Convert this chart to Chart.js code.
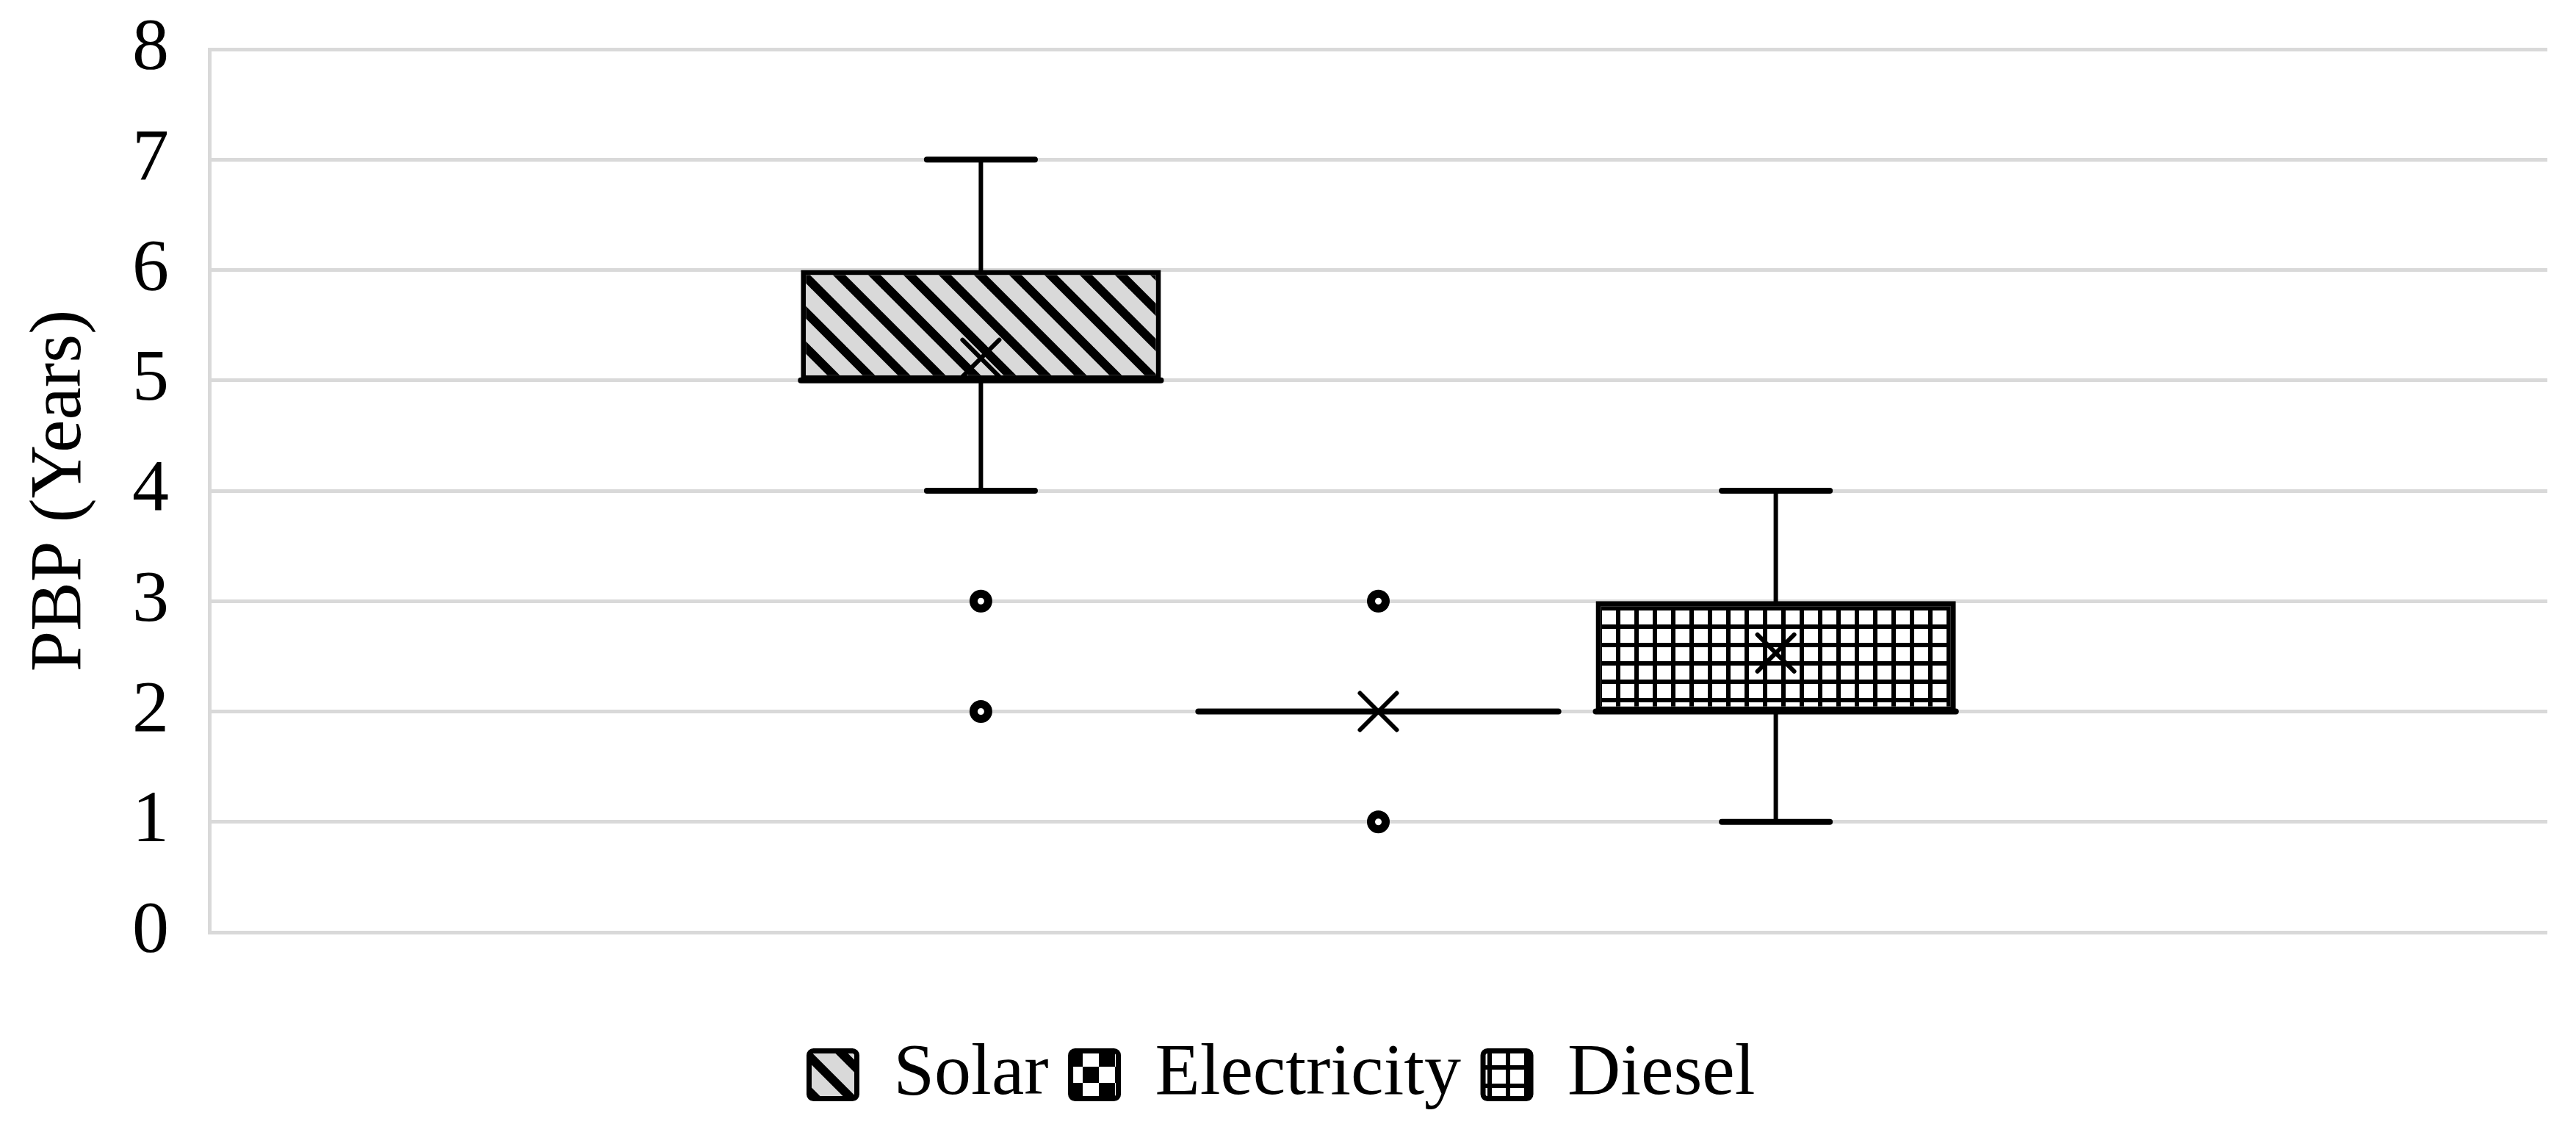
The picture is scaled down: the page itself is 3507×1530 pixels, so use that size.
<!DOCTYPE html>
<html>
<head>
<meta charset="utf-8">
<title>PBP box plot</title>
<script src="https://cdn.jsdelivr.net/npm/chart.js@4.4.0/dist/chart.umd.min.js"></script>
<style>
  html, body { margin: 0; padding: 0; background: #fff; }
  #wrap { width: 3507px; height: 1530px; }
</style>
</head>
<body>
<div id="wrap"><canvas id="pbpChart" width="3507" height="1530"></canvas></div>
<script>
// Values (years)
const categories = [''];
const seriesNames = ['Solar', 'Electricity', 'Diesel'];
const q1Values = [5, 2, 2];
const q3Values = [6, 2, 3];
const medianValues = [5, 2, 2];
const meanValues = [5.2, 2, 2.53];
const whiskerLow = [4, 2, 1];
const whiskerHigh = [7, 2, 4];
const outlierValues = [[3, 2], [3, 1], []];
const yTicks = [0, 1, 2, 3, 4, 5, 6, 7, 8];

const FONT = "'Liberation Serif', 'Times New Roman', serif";

// Fill patterns like the Excel ones
function makePattern(kind) {
  const c = document.createElement('canvas');
  const g = c.getContext('2d');
  if (kind === 'stripes') {
    const s = 48;
    c.width = s; c.height = s;
    g.fillStyle = '#d9d9d9';
    g.fillRect(0, 0, s, s);
    g.strokeStyle = '#000';
    g.lineWidth = 12;
    [-s, 0, s].forEach(off => {
      g.beginPath();
      g.moveTo(off - s, -s);
      g.lineTo(off + 2 * s, 2 * s);
      g.stroke();
    });
  } else if (kind === 'checker') {
    const s = 44;
    c.width = s; c.height = s;
    g.fillStyle = '#fff';
    g.fillRect(0, 0, s, s);
    g.fillStyle = '#000';
    g.fillRect(s / 2, 0, s / 2, s / 2);
    g.fillRect(0, s / 2, s / 2, s / 2);
  } else {
    const s = 25;
    c.width = s; c.height = s;
    g.fillStyle = '#fff';
    g.fillRect(0, 0, s, s);
    g.fillStyle = '#000';
    g.fillRect(0, 0, s, 6);
    g.fillRect(0, 0, 6, s);
  }
  return g.createPattern(c, 'repeat');
}

const fills = [makePattern('stripes'), makePattern('checker'), makePattern('grid')];

// whiskers, median, mean marker and outliers
const boxExtras = {
  id: 'boxExtras',
  afterDatasetsDraw(chart) {
    const ctx = chart.ctx;
    const y = chart.scales.y;
    ctx.save();
    ctx.strokeStyle = '#000';
    ctx.lineCap = 'round';
    seriesNames.forEach((name, i) => {
      const bar = chart.getDatasetMeta(i).data[0];
      const x = bar.x;
      const w = bar.width;
      const cap = w * 0.3;

      [[q3Values[i], whiskerHigh[i]], [q1Values[i], whiskerLow[i]]].forEach(([from, to]) => {
        if (from === to) return;
        const yTo = y.getPixelForValue(to);
        ctx.lineWidth = 6;
        ctx.beginPath();
        ctx.moveTo(x, y.getPixelForValue(from));
        ctx.lineTo(x, yTo);
        ctx.stroke();
        ctx.lineWidth = 8;
        ctx.beginPath();
        ctx.moveTo(x - cap / 2, yTo);
        ctx.lineTo(x + cap / 2, yTo);
        ctx.stroke();
      });

      // median line
      const ym = y.getPixelForValue(medianValues[i]);
      ctx.lineWidth = 8;
      ctx.beginPath();
      ctx.moveTo(x - w / 2, ym);
      ctx.lineTo(x + w / 2, ym);
      ctx.stroke();

      // mean marker (x)
      const yMean = y.getPixelForValue(meanValues[i]);
      const r = 25;
      ctx.lineWidth = 6;
      ctx.beginPath();
      ctx.moveTo(x - r, yMean - r);
      ctx.lineTo(x + r, yMean + r);
      ctx.moveTo(x + r, yMean - r);
      ctx.lineTo(x - r, yMean + r);
      ctx.stroke();

      // outliers
      outlierValues[i].forEach(v => {
        ctx.beginPath();
        ctx.arc(x, y.getPixelForValue(v), 10, 0, Math.PI * 2);
        ctx.fillStyle = '#fff';
        ctx.fill();
        ctx.lineWidth = 11;
        ctx.stroke();
      });
    });
    ctx.restore();
  }
};

window.addEventListener('DOMContentLoaded', () => {
  const ctx = document.getElementById('pbpChart');
  new Chart(ctx.getContext('2d'), {
    type: 'bar',
    data: {
      labels: categories,
      datasets: seriesNames.map((name, i) => ({
        label: name,
        data: [[q1Values[i], q3Values[i]]],
        backgroundColor: fills[i],
        borderColor: '#000',
        borderWidth: 7,
        borderSkipped: false,
        categoryPercentage: 0.51,
        barPercentage: 0.906
      }))
    },
    options: {
      responsive: false,
      animation: false,
      layout: {
        padding: { left: 23, top: 67, right: 39, bottom: 7 }
      },
      plugins: {
        tooltip: { enabled: false },
        legend: {
          position: 'bottom',
          labels: {
            color: '#000',
            font: { family: FONT, size: 100 },
            boxWidth: 65,
            boxHeight: 65,
            padding: 30,
            useBorderRadius: true,
            borderRadius: 6
          }
        }
      },
      scales: {
        x: {
          ticks: { display: false },
          grid: { display: false },
          border: { display: false },
          afterFit: scale => { scale.height = 114; }
        },
        y: {
          min: 0,
          max: 8,
          afterBuildTicks: scale => {
            scale.ticks = yTicks.map(v => ({ value: v }));
          },
          ticks: {
            color: '#000',
            padding: 55,
            font: { family: FONT, size: 100 }
          },
          grid: {
            color: '#d9d9d9',
            lineWidth: 5,
            drawTicks: false
          },
          border: { display: true, color: '#d9d9d9', width: 5 },
          title: {
            display: true,
            text: 'PBP (Years)',
            color: '#000',
            padding: 0,
            font: { family: FONT, size: 100 }
          },
          afterFit: scale => {
            scale.width = 262;
            // the tick padding should not push the plot down
            scale.paddingTop = 0;
            scale.paddingBottom = 0;
          }
        }
      }
    },
    plugins: [boxExtras]
  });
});
</script>
</body>
</html>
